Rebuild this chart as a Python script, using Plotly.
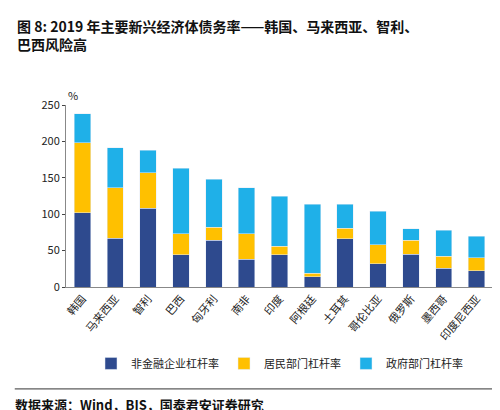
import plotly.graph_objects as go

categories = ["韩国","马来西亚","智利","巴西","匈牙利","南非","印度","阿根廷","土耳其","哥伦比亚","俄罗斯","墨西哥","印度尼西亚"]
nonfin = [102,67,108,44,64,38,44,14,66,32,45,26,22]
household = [96,69,49,29,18,35,12,5,15,26,19,16,18]
government = [40,55,31,90,66,63,69,95,33,46,16,36,30]

fig = go.Figure()
for name, vals, col in [("非金融企业杠杆率", nonfin, "#2E4A8E"),
                        ("居民部门杠杆率", household, "#FFC000"),
                        ("政府部门杠杆率", government, "#1FB0E8")]:
    fig.add_bar(x=categories, y=vals, name=name, marker_color=col, width=0.5)

fig.update_layout(
    barmode="stack", width=500, height=410, plot_bgcolor="white", paper_bgcolor="white",
    margin=dict(l=58, r=15, t=97, b=131),
    font=dict(family="Noto Sans CJK SC", size=11, color="#222"),
    legend=dict(orientation="h", traceorder="normal", x=0.5, xanchor="center", y=-0.42, yanchor="middle", font=dict(size=11)),
    yaxis=dict(range=[0,250], dtick=50, showgrid=False, showline=True, linecolor="#888", ticks="outside", ticklen=3),
    xaxis=dict(showline=True, linecolor="#888", tickangle=-50, ticks=""),
)
fig.add_annotation(text="<b>图 8: 2019 年主要新兴经济体债务率——韩国、马来西亚、智利、<br>巴西风险高</b>",
                   xref="paper", yref="paper", x=-0.12, y=1.5, xanchor="left", yanchor="top", align="left",
                   showarrow=False, font=dict(size=14, color="#111"))
fig.add_annotation(text="%", xref="paper", yref="paper", x=0.0, y=1.0, xanchor="left", yanchor="bottom", showarrow=False, font=dict(size=11))
fig.add_shape(type="line", xref="paper", yref="paper", x0=-0.12, x1=1.02, y0=-0.56, y1=-0.56, line=dict(color="#333", width=1))
fig.add_annotation(text="<b>数据来源：Wind，BIS，国泰君安证券研究</b>", xref="paper", yref="paper", x=-0.125, y=-0.58,
                   xanchor="left", yanchor="top", showarrow=False, font=dict(size=13, color="#111"))
fig.write_html("out.html")
